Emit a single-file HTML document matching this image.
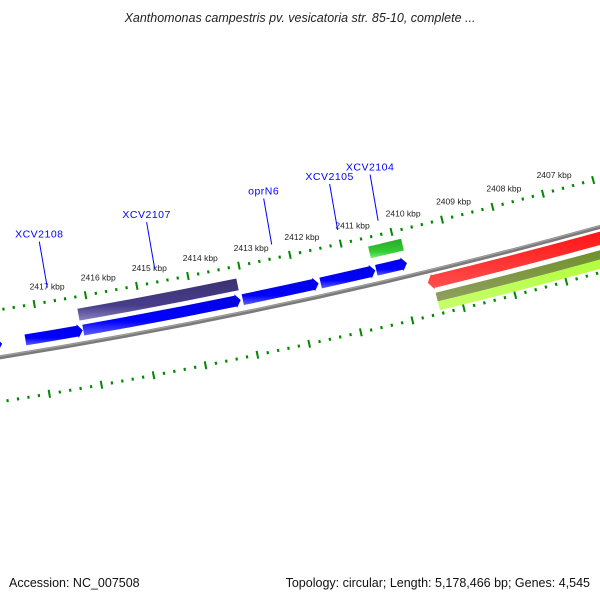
<!DOCTYPE html>
<html><head><meta charset="utf-8"><style>
body{margin:0;background:#fff}
svg{display:block}
text{font-family:"Liberation Sans",sans-serif}
</style></head><body>
<svg id="map" width="600" height="600" viewBox="0 0 600 600">
<defs>
<linearGradient id="gBlue" x1="0" y1="0" x2="0" y2="1"><stop offset="0" stop-color="#0000e0"/><stop offset="0.65" stop-color="#0000ff"/><stop offset="1" stop-color="#6060ff"/></linearGradient>
<linearGradient id="gPurple" x1="0" y1="0" x2="0" y2="1"><stop offset="0" stop-color="#3a3170"/><stop offset="0.65" stop-color="#483d8b"/><stop offset="1" stop-color="#8a82c0"/></linearGradient>
<linearGradient id="gGreen" x1="0" y1="0" x2="0" y2="1"><stop offset="0" stop-color="#28a828"/><stop offset="0.65" stop-color="#32cd32"/><stop offset="1" stop-color="#80e880"/></linearGradient>
<linearGradient id="gRed" x1="0" y1="0" x2="0" y2="1"><stop offset="0" stop-color="#c00000"/><stop offset="0.5" stop-color="#ff0000"/><stop offset="1" stop-color="#ff5050"/></linearGradient>
<linearGradient id="gOlive" x1="0" y1="0" x2="0" y2="1"><stop offset="0" stop-color="#50691a"/><stop offset="0.6" stop-color="#6b8e23"/><stop offset="1" stop-color="#90a060"/></linearGradient>
<linearGradient id="gYG" x1="0" y1="0" x2="0" y2="1"><stop offset="0" stop-color="#90d820"/><stop offset="0.6" stop-color="#adff2f"/><stop offset="1" stop-color="#c8ff70"/></linearGradient>
</defs>
<text x="300" y="22" text-anchor="middle" font-size="12.5" font-style="italic" fill="#222">Xanthomonas campestris pv. vesicatoria str. 85-10, complete ...</text>
<g id="layer"></g>
<text x="9" y="587" font-size="12.5" fill="#111">Accession: NC_007508</text>
<text x="590" y="587" text-anchor="end" font-size="12.5" fill="#111">Topology: circular; Length: 5,178,466 bp; Genes: 4,545</text>
</svg>
<script>
// data (kbp)
const majorTicks = [2405,2406,2407,2408,2409,2410,2411,2412,2413,2414,2415,2416,2417,2418,2419];
const tickLabels = ["2407 kbp","2408 kbp","2409 kbp","2410 kbp","2411 kbp","2412 kbp","2413 kbp","2414 kbp","2415 kbp","2416 kbp","2417 kbp"];
const tickLabelValues = [2407,2408,2409,2410,2411,2412,2413,2414,2415,2416,2417];
const blueGeneStarts = [2420.5,2417.28,2416.16,2413.06,2411.54,2410.45];
const blueGeneEnds   = [2417.73,2416.17,2413.10,2411.58,2410.47,2409.85];
const purpleStarts = [2416.2];
const purpleEnds = [2413.1];
const greenStarts = [2410.5];
const greenEnds = [2409.85];
const redStarts = [2400.0];
const redEnds = [2409.55];
const oliveStarts = [2409.45];
const oliveEnds = [2400.0];
const geneNames = ["XCV2108","XCV2107","oprN6","XCV2105","XCV2104"];
const geneNamePos = [2416.7,2414.6,2412.3,2411.0,2410.2];

// axis functions
const CX=-877, CY=-5124;
function ang(k){return (80.47+(k-2417)*0.542)*Math.PI/180;}
function pt(k,r){const a=ang(k);return [CX+r*Math.cos(a),CY+r*Math.sin(a)];}
const NS="http://www.w3.org/2000/svg";
const layer=document.getElementById('layer');
function mk(tag,attrs){const e=document.createElementNS(NS,tag);for(const k in attrs)e.setAttribute(k,attrs[k]);layer.appendChild(e);return e;}
function f(p){return p[0].toFixed(2)+","+p[1].toFixed(2);}
function arcPath(k1,k2,r){
  const p2=pt(k2,r);const sweep=k2>k1?1:0;
  return "A"+r+","+r+" 0 0 "+sweep+" "+f(p2);
}
function band(k1,k2,r,w,head){
  const ro=r+w/2, ri=r-w/2, hl=0.1;
  let d;
  if(!head){
    d="M"+f(pt(k1,ri))+arcPath(k1,k2,ri)+"L"+f(pt(k2,ro))+arcPath(k2,k1,ro)+"Z";
  } else {
    const dir=k2<k1?1:-1; const kb=k2+dir*hl;
    d="M"+f(pt(k1,ri))+arcPath(k1,kb,ri)+"L"+f(pt(kb,ri-1.5))+"L"+f(pt(k2,r))+"L"+f(pt(kb,ro+1.5))+"L"+f(pt(kb,ro))+arcPath(kb,k1,ro)+"Z";
  }
  return d;
}
let bb=mk('path',{d:"M"+f(pt(2421,5551))+arcPath(2421,2400,5551),fill:"none",stroke:"#7a7a7a","stroke-width":4});


let bb2=mk('path',{d:"M"+f(pt(2421,5550))+arcPath(2421,2400,5550),fill:"none",stroke:"#a0a0a0","stroke-width":1.2});



function ring(r,name){
  for(let k=2404;k<=2420.01;k+=0.2){
    const kk=Math.round(k*5)/5;
    const isMajor=Math.abs(kk-Math.round(kk))<0.01 && majorTicks.includes(Math.round(kk));
    const len=isMajor?4:1.5;
    const a=pt(kk,r-len), b=pt(kk,r+len);
    const l=mk('line',{x1:a[0],y1:a[1],x2:b[0],y2:b[1],stroke:"#008800","stroke-width":isMajor?2:2.2});
    
    
  }
}
ring(5504,'outer-ring');
ring(5595,'inner-ring');
tickLabelValues.forEach((k,i)=>{
  const p=pt(k-0.3,5489);
  const t=mk('text',{x:p[0],y:p[1]+3,"text-anchor":"middle","font-size":"8.5",fill:"#222"});
  t.textContent=tickLabels[i];
  
  
});
function feats(starts,ends,r,w,fill,head,name){
  starts.forEach((s,i)=>{
    const p=mk('path',{d:band(s,ends[i],r,w,head),fill:fill});
    
    
  });
}
feats(purpleStarts,purpleEnds,5522,12,"url(#gPurple)",false,'purple-feature');
feats(greenStarts,greenEnds,5519,12,"url(#gGreen)",false,'green-feature');
feats(blueGeneStarts,blueGeneEnds,5538,11,"url(#gBlue)",true,'blue-gene');
feats(redStarts,redEnds,5562,13,"url(#gRed)",true,'red-feature');
feats(oliveStarts,oliveEnds,5578,9,"url(#gOlive)",false,'olive-feature');
feats(oliveStarts,oliveEnds,5587,9,"url(#gYG)",false,'yellowgreen-feature');
geneNames.forEach((n,i)=>{
  const k=geneNamePos[i];
  const a=pt(k,5490);
  const b=[a[0]-8,a[1]-46];
  const l=mk('line',{x1:a[0],y1:a[1],x2:b[0],y2:b[1],stroke:"#0000ff","stroke-width":1});
  
  
  const t=mk('text',{x:b[0],y:b[1]-4,"text-anchor":"middle","font-size":"10.5",fill:"#0000ff","letter-spacing":"0.5"});
  t.textContent=n;
  
  
});
</script>
</body></html>
